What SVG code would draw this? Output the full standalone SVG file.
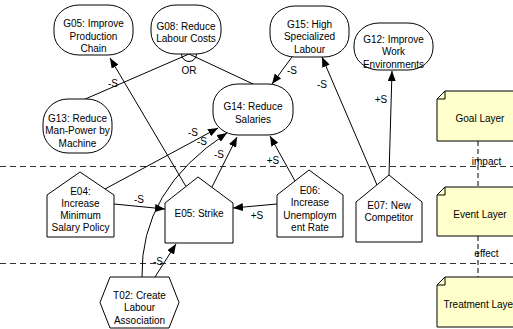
<svg xmlns="http://www.w3.org/2000/svg" width="513" height="329" viewBox="0 0 513 329">
<style>
text{font-family:"Liberation Sans",Arial,sans-serif;font-size:10px;fill:#000;text-anchor:middle}
.goal{fill:#fff;stroke:#000;stroke-width:1}
.ev{fill:#fff;stroke:#000;stroke-width:1}
.note{fill:#ffffcc;stroke:#000;stroke-width:1}
.fold{fill:none;stroke:#000;stroke-width:1}
.c{fill:none;stroke:#000;stroke-width:1}
.a{fill:none;stroke:#000;stroke-width:1;marker-end:url(#ah)}
.sep{stroke:#333;stroke-width:1;stroke-dasharray:6,4;fill:none}
.vd{stroke:#000;stroke-width:1;stroke-dasharray:5,3;fill:none}
</style>
<defs>
<marker id="ah" viewBox="0 0 10 8" refX="10" refY="4" markerWidth="10" markerHeight="8" markerUnits="userSpaceOnUse" orient="auto">
<path d="M0,0 L10,4 L0,8 Z" fill="#000"/>
</marker>
</defs>
<rect width="513" height="329" fill="#fff"/>
<g id="separators">
<line class="sep" x1="0" y1="166.5" x2="513" y2="166.5"/>
<line class="sep" x1="0" y1="263.5" x2="513" y2="263.5"/>
</g>
<g id="connectors">
<path class="c" d="M83,100 L189,54 L253,84"/>
<path class="c" d="M181.5,54 A7.5,7.5 0 0 0 196.5,54"/>
<path class="a" d="M186,186.5 L110,58"/>
<path class="a" d="M105,189 L218,128"/>
<path class="a" d="M142,277 Q140,190 227,133"/>
<path class="a" d="M212,187 L237,137"/>
<path class="a" d="M295,181 L270,136"/>
<path class="a" d="M292,57 L272,84"/>
<path class="a" d="M377,185 L322,57"/>
<path class="a" d="M389,175 L392,71"/>
<path class="a" d="M114,204 L165,209"/>
<path class="a" d="M277,204 L233,208"/>
<path class="a" d="M155,277 L176,244"/>
<path class="vd" d="M478,141 V187 M478,236 V277"/>
<text x="113" y="86.5">-S</text>
<text x="189" y="73.5">OR</text>
<text x="292" y="73.5">-S</text>
<text x="322" y="87.5">-S</text>
<text x="381" y="102.5">+S</text>
<text x="193" y="135.5">-S</text>
<text x="202" y="145">-S</text>
<text x="219" y="158">-S</text>
<text x="273" y="163.5">+S</text>
<text x="139" y="202.5">-S</text>
<text x="257" y="218.5">+S</text>
<text x="158" y="265">-S</text>
<text x="486.5" y="164.5">impact</text>
<text x="486.5" y="256.5">effect</text>
</g>
<g id="G05">
<rect class="goal" x="54" y="5" width="79" height="50" rx="25" ry="22"/>
<text x="93.5" y="26.5">G05: Improve</text>
<text x="93.5" y="39.5">Production</text>
<text x="93.5" y="51.5">Chain</text>
</g>
<g id="G08">
<rect class="goal" x="151" y="5" width="70" height="49" rx="25" ry="22"/>
<text x="186" y="29.5">G08: Reduce</text>
<text x="186" y="42">Labour Costs</text>
</g>
<g id="G15">
<rect class="goal" x="270" y="6" width="79" height="51" rx="25" ry="22"/>
<text x="309.5" y="27.5">G15: High</text>
<text x="309.5" y="40">Specialized</text>
<text x="309.5" y="52.5">Labour</text>
</g>
<g id="G12">
<rect class="goal" x="354" y="23" width="79" height="47" rx="25" ry="22"/>
<text x="393.5" y="42.5">G12: Improve</text>
<text x="393.5" y="55">Work</text>
<text x="393.5" y="67.5">Environments</text>
</g>
<g id="G13">
<rect class="goal" x="43" y="99" width="69" height="54" rx="25" ry="24"/>
<text x="77.5" y="121.5">G13: Reduce</text>
<text x="77.5" y="134">Man-Power by</text>
<text x="77.5" y="146.5">Machine</text>
</g>
<g id="G14">
<rect class="goal" x="213" y="84" width="80" height="51" rx="25" ry="22"/>
<text x="253" y="109.5">G14: Reduce</text>
<text x="253" y="122.5">Salaries</text>
</g>
<g id="E04">
<polygon class="ev" points="47,195 80,172 114,195 114,237 47,237"/>
<text x="80.5" y="194.5">E04:</text>
<text x="80.5" y="206.5">Increase</text>
<text x="80.5" y="218.5">Minimum</text>
<text x="80.5" y="230.5">Salary Policy</text>
</g>
<g id="E05">
<polygon class="ev" points="165,203 198,177 233,203 233,243 165,243"/>
<text x="199" y="216.5">E05: Strike</text>
</g>
<g id="E06">
<polygon class="ev" points="277,195 309,170 343,195 343,237 277,237"/>
<text x="310" y="193.5">E06:</text>
<text x="310" y="206">Increase</text>
<text x="310" y="218.5">Unemploym</text>
<text x="310" y="231">ent Rate</text>
</g>
<g id="E07">
<polygon class="ev" points="356,202 389,175 422,202 422,242 356,242"/>
<text x="389" y="208.5">E07: New</text>
<text x="389" y="221">Competitor</text>
</g>
<g id="T02">
<polygon class="ev" points="100,302.5 110,277 169,277 179,302.5 169,328 110,328"/>
<text x="139.5" y="298.5">T02: Create</text>
<text x="139.5" y="311">Labour</text>
<text x="139.5" y="323.5">Association</text>
</g>
<g id="GoalLayer">
<path class="note" d="M445,91 H523 V141 H437 V99 Z"/>
<path class="fold" d="M437,99 H445 V91"/>
<text x="480" y="121.5">Goal Layer</text>
</g>
<g id="EventLayer">
<path class="note" d="M445,187 H523 V236 H437 V195 Z"/>
<path class="fold" d="M437,195 H445 V187"/>
<text x="480" y="217.5">Event Layer</text>
</g>
<g id="TreatmentLayer">
<path class="note" d="M445,277 H523 V327 H437 V285 Z"/>
<path class="fold" d="M437,285 H445 V277"/>
<text x="480" y="307.5">Treatment Layer</text>
</g>
</svg>
